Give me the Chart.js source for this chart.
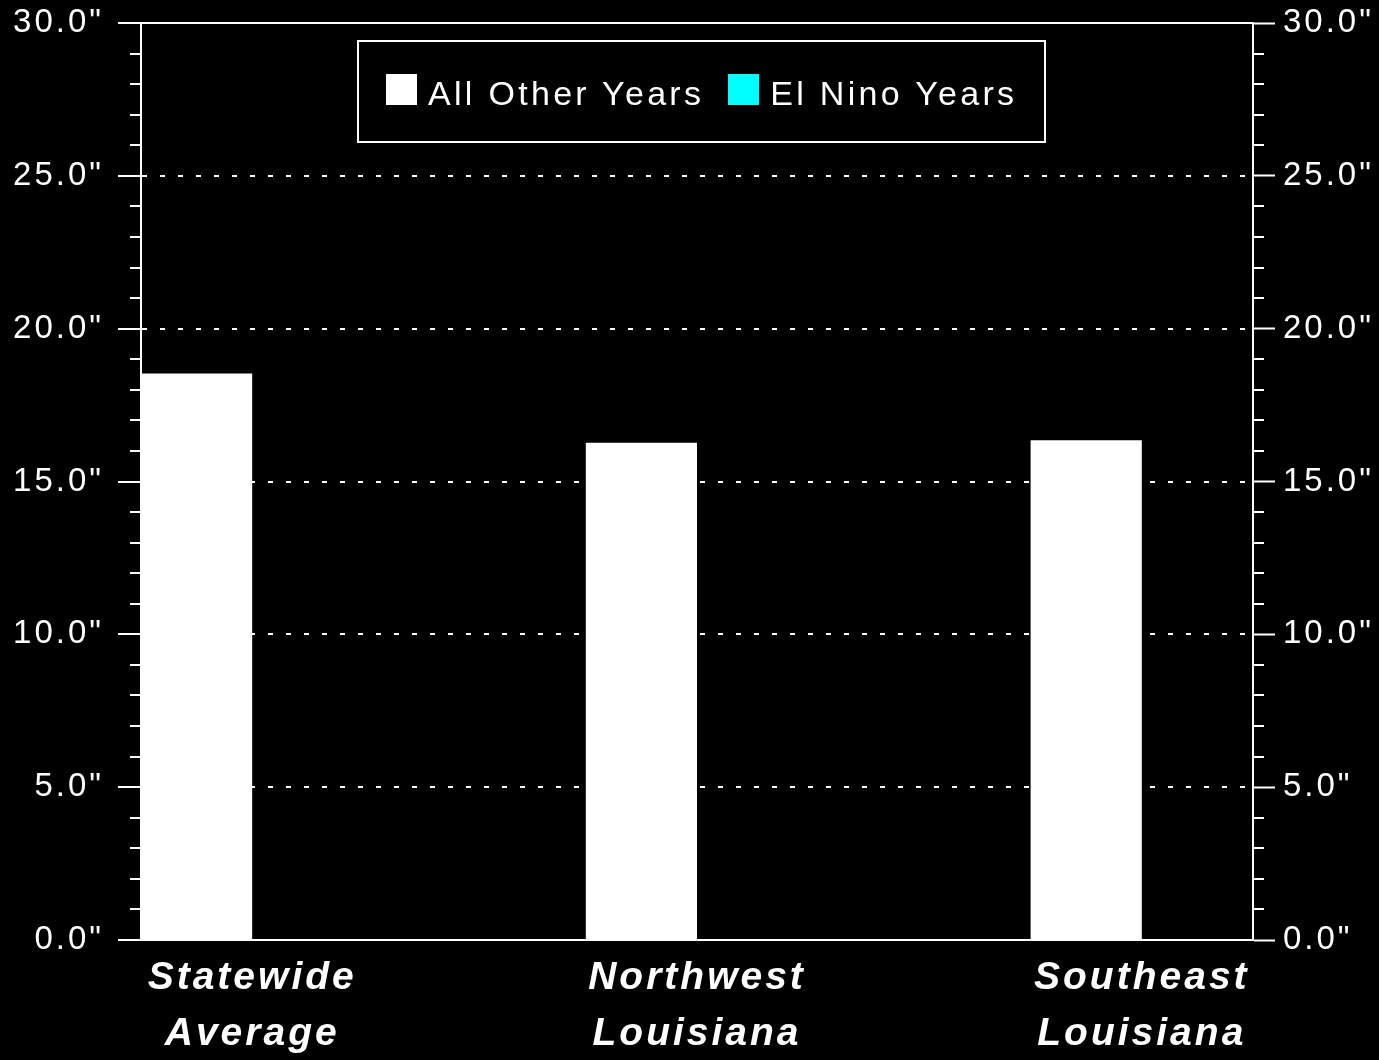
<!DOCTYPE html>
<html>
<head>
<meta charset="utf-8">
<title>Rainfall: All Other Years vs El Nino Years</title>
<script src="https://cdn.jsdelivr.net/npm/chart.js@4.4.0/dist/chart.umd.min.js"></script>
<style>
    html, body {
        margin: 0;
        padding: 0;
        background: #000;
    }
    #wrap {
        position: relative;
        width: 1379px;
        height: 1060px;
    }
    #legend {
        position: absolute;
        left: 357px;
        top: 40px;
        width: 689px;
        height: 103px;
        box-sizing: border-box;
        border: 2px solid #fff;
        display: flex;
        align-items: center;
        padding-left: 27px;
        font-family: "Liberation Sans", Arial, sans-serif;
        font-size: 34px;
        letter-spacing: 3.3px;
        color: #fff;
    }
    .legend-item {
        display: flex;
        align-items: center;
        margin-right: 24px;
        margin-top: 4px;
    }
    .legend-box {
        width: 31px;
        height: 31px;
        margin-right: 11px;
        margin-top: -8px;
    }
</style>
</head>
<body>
<div id="wrap">
    <canvas id="chart" width="1379" height="1060"></canvas>
    <div id="legend"></div>
</div>
<script>
const regions = [['Statewide', 'Average'], ['Northwest', 'Louisiana'], ['Southeast', 'Louisiana']];
const otherYears = [18.53, 16.27, 16.35];
// no El Nino bars are visible in the picture
const elNinoYears = [null, null, null];
const seriesNames = ['All Other Years', 'El Nino Years'];
const seriesColors = ['#ffffff', '#00ffff'];
const yTicks = [0, 5, 10, 15, 20, 25, 30];
const minorStep = 1;

// wide text spacing like the original plot
const spacing = {
    id: 'spacing',
    beforeLayout(chart) {
        chart.ctx.letterSpacing = '3px';
    },
    beforeDraw(chart) {
        chart.ctx.letterSpacing = '3px';
    }
};

const minorTicks = {
    id: 'minorTicks',
    afterDraw(chart) {
        const ctx = chart.ctx;
        ctx.save();
        ctx.strokeStyle = '#fff';
        ctx.lineWidth = 2;
        ['y', 'y2'].forEach(id => {
            const scale = chart.scales[id];
            const left = id === 'y';
            const x0 = left ? scale.right : scale.left;
            for (let v = scale.min; v <= scale.max; v += minorStep) {
                if (yTicks.includes(v)) continue;
                const py = Math.round(scale.getPixelForValue(v));
                ctx.beginPath();
                ctx.moveTo(x0, py);
                ctx.lineTo(left ? x0 - 11 : x0 + 11, py);
                ctx.stroke();
            }
        });
        ctx.restore();
    }
};

const tickFont = {family: 'Liberation Sans', size: 33};
const inches = v => v.toFixed(1) + '"';

function makeData(values) {
    return values.map((v, i) => ({x: i, y: v}));
}

// fixed axis size, and no extra room reserved for the end labels
function fixWidth(w) {
    return scale => {
        scale.width = w;
        scale.paddingTop = 0;
        scale.paddingBottom = 0;
    };
}

const chart = new Chart(document.getElementById('chart'), {
    type: 'bar',
    data: {
        datasets: [{
            label: seriesNames[0],
            data: makeData(otherYears),
            backgroundColor: seriesColors[0],
            xAxisID: 'x',
            yAxisID: 'y',
            categoryPercentage: 0.5,
            barPercentage: 1
        }, {
            label: seriesNames[1],
            data: makeData(elNinoYears),
            backgroundColor: seriesColors[1],
            xAxisID: 'x',
            yAxisID: 'y',
            categoryPercentage: 0.5,
            barPercentage: 1
        }]
    },
    options: {
        responsive: false,
        animation: false,
        layout: {autoPadding: false, padding: 0},
        plugins: {
            legend: {display: false},
            tooltip: {enabled: false}
        },
        scales: {
            x: {
                type: 'linear',
                position: 'bottom',
                min: -0.25,
                max: regions.length - 0.75,
                offset: false,
                afterBuildTicks: scale => {
                    scale.ticks = regions.map((r, i) => ({value: i}));
                },
                ticks: {
                    color: '#fff',
                    autoSkip: false,
                    maxRotation: 0,
                    padding: 10,
                    font: {family: 'Liberation Sans', size: 39, weight: 'bold', style: 'italic', lineHeight: '56px'},
                    callback: value => regions[value]
                },
                grid: {display: false, drawTicks: false},
                border: {color: '#fff', width: 2},
                afterFit: scale => {
                    scale.height = 120;
                    scale.paddingLeft = 0;
                    scale.paddingRight = 0;
                }
            },
            xTop: {
                type: 'linear',
                position: 'top',
                min: -0.25,
                max: regions.length - 0.75,
                offset: false,
                ticks: {display: false},
                grid: {display: false, drawTicks: false},
                border: {color: '#fff', width: 2},
                afterFit: scale => {
                    scale.height = 23;
                }
            },
            y: {
                position: 'left',
                min: 0,
                max: 30,
                afterBuildTicks: scale => {
                    scale.ticks = yTicks.map(v => ({value: v}));
                },
                ticks: {color: '#fff', font: tickFont, padding: 14, callback: inches},
                grid: {
                    color: c => (c.tick && (c.tick.value === 0 || c.tick.value === 30)) ? 'rgba(0,0,0,0)' : '#fff',
                    lineWidth: 2,
                    tickColor: '#fff',
                    tickLength: 23,
                    tickWidth: 2
                },
                border: {color: '#fff', width: 2, dash: [5, 13]},
                afterFit: fixWidth(141)
            },
            y2: {
                position: 'right',
                min: 0,
                max: 30,
                afterBuildTicks: scale => {
                    scale.ticks = yTicks.map(v => ({value: v}));
                },
                ticks: {color: '#fff', font: tickFont, padding: 8, callback: inches},
                grid: {
                    drawOnChartArea: false,
                    tickColor: '#fff',
                    tickLength: 22,
                    tickWidth: 2
                },
                border: {color: '#fff', width: 2},
                afterFit: fixWidth(126)
            }
        }
    },
    plugins: [spacing, minorTicks]
});

// legend box drawn inside the plot, built from the chart's datasets
const legend = document.getElementById('legend');
chart.data.datasets.forEach(ds => {
    const item = document.createElement('div');
    item.className = 'legend-item';
    const box = document.createElement('span');
    box.className = 'legend-box';
    box.style.background = ds.backgroundColor;
    const text = document.createElement('span');
    text.textContent = ds.label;
    item.appendChild(box);
    item.appendChild(text);
    legend.appendChild(item);
});
</script>
</body>
</html>
